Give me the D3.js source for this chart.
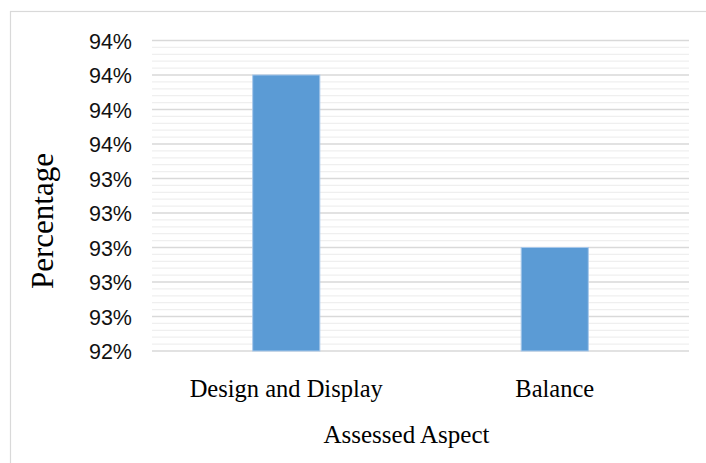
<!DOCTYPE html>
<html>
<head>
<meta charset="utf-8">
<script src="https://cdn.jsdelivr.net/npm/d3@7"></script>
<style>
  html, body { margin: 0; padding: 0; background: #fff; }
  svg { display: block; }
</style>
</head>
<body>
<svg id="chart" width="706" height="463"></svg>
<script>
// Assessment results per aspect (percent)
const categories = ["Design and Display", "Balance"];
const values = [94.0, 93.0];
// Value axis: major ticks every 0.2 %, minor gridlines every 0.04 %
const yMin = 92.4, yMax = 94.2;
const majorTicks = [92.4, 92.6, 92.8, 93.0, 93.2, 93.4, 93.6, 93.8, 94.0, 94.2];
const minorTicks = d3.range(0, 46).map(i => +(yMin + i * 0.04).toFixed(2));
const xTitle = "Assessed Aspect";
const yTitle = "Percentage";

const svg = d3.select("#chart");
const W = 706, H = 463;
const plot = { left: 152, right: 689, top: 40.5, bottom: 351 };

// outer frame of the chart area
svg.append("rect")
  .attr("x", 10.5).attr("y", 11.5)
  .attr("width", W).attr("height", H)
  .attr("fill", "#fff")
  .attr("stroke", "#d9d9d9").attr("stroke-width", 1.2);

const x = d3.scaleBand().domain(categories)
  .range([plot.left, plot.right]).paddingInner(0.75).paddingOuter(0.375);
const y = d3.scaleLinear().domain([yMin, yMax]).range([plot.bottom, plot.top]);

// minor gridlines
svg.append("g").selectAll("line")
  .data(minorTicks.filter(v => !majorTicks.some(m => Math.abs(m - v) < 1e-6)))
  .join("line")
  .attr("x1", plot.left).attr("x2", plot.right)
  .attr("y1", d => y(d)).attr("y2", d => y(d))
  .attr("stroke", "#efefef").attr("stroke-width", 1.3);

// major gridlines
svg.append("g").selectAll("line")
  .data(majorTicks)
  .join("line")
  .attr("x1", plot.left).attr("x2", plot.right)
  .attr("y1", d => y(d)).attr("y2", d => y(d))
  .attr("stroke", "#d9d9d9").attr("stroke-width", 1.5);

// bars
svg.append("g").selectAll("rect")
  .data(categories.map((c, i) => ({ c, v: values[i] })))
  .join("rect")
  .attr("x", d => x(d.c))
  .attr("width", x.bandwidth())
  .attr("y", d => y(d.v))
  .attr("height", d => y(yMin) - y(d.v))
  .attr("fill", "#5b9bd5")
  .attr("stroke", "#a8c8ea").attr("stroke-width", 1);

// y axis labels
const yAxis = d3.axisLeft(y)
  .tickValues(majorTicks)
  .tickSize(0).tickPadding(20)
  .tickFormat(d => d3.format(".0f")(d) + "%");
const gy = svg.append("g")
  .attr("transform", `translate(${plot.left},0)`)
  .call(yAxis);
gy.select(".domain").remove();
gy.selectAll("text")
  .attr("font-family", "'Liberation Sans', Arial, sans-serif")
  .attr("font-size", 21.5)
  .attr("fill", "#111")
  .attr("dy", "0.36em");

// x axis labels
const xAxis = d3.axisBottom(x).tickSize(0).tickPadding(0);
const gx = svg.append("g")
  .attr("transform", `translate(0,${plot.bottom})`)
  .call(xAxis);
gx.select(".domain").remove();
gx.selectAll("text")
  .attr("font-family", "'Liberation Serif', 'Times New Roman', serif")
  .attr("font-size", 24.5)
  .attr("fill", "#000")
  .attr("dy", 0)
  .attr("y", 46);

// axis titles
svg.append("text")
  .attr("x", 406.5).attr("y", 443)
  .attr("text-anchor", "middle")
  .attr("font-family", "'Liberation Serif', 'Times New Roman', serif")
  .attr("font-size", 25)
  .attr("fill", "#000")
  .text(xTitle);

svg.append("text")
  .attr("transform", "translate(53,221) rotate(-90)")
  .attr("text-anchor", "middle")
  .attr("font-family", "'Liberation Serif', 'Times New Roman', serif")
  .attr("font-size", 31)
  .attr("fill", "#000")
  .text(yTitle);
</script>
</body>
</html>
